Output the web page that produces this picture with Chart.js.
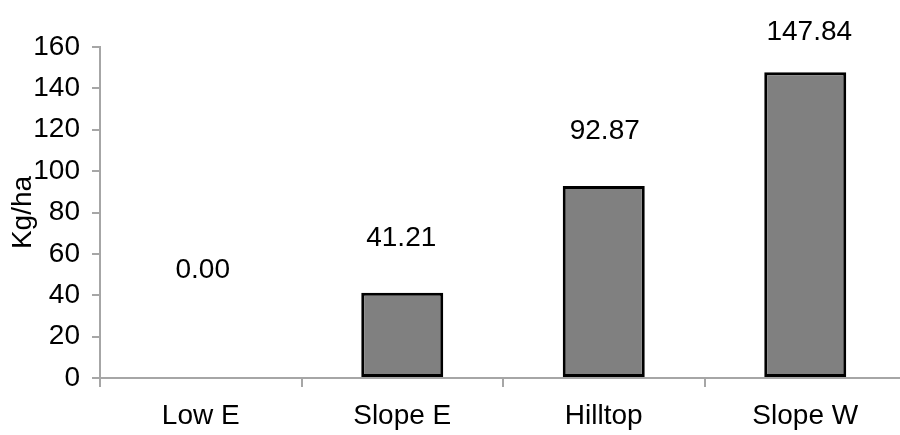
<html>
<head>
    <meta http-equiv="Content-Type" content="text/html; charset=utf-8"/>
    <title>Kg/ha</title>
    <style>
        html, body { margin: 0; padding: 0; background: #ffffff; overflow: hidden; }
    </style>
</head>
<body>

    <canvas id="slupki" width="906" height="435"></canvas>

<script src="https://cdn.jsdelivr.net/npm/chart.js@4/dist/chart.umd.min.js"></script>
<script type="text/javascript">

// dane z wykresu
var miejsca = ["Low E", "Slope E", "Hilltop", "Slope W"];
var kgha = [0.00, 41.21, 92.87, 147.84];
var osY = [0, 20, 40, 60, 80, 100, 120, 140, 160];

var FONT = "'Liberation Sans', Arial, sans-serif";
var SZARY = "#a6a6a6";

// etykiety nad slupkami (odstep dolu tekstu od gory slupka, px)
var podpisy = {
    id : "podpisy",
    afterDatasetsDraw : function(chart, args, opts)
    {
        var ctx = chart.ctx;
        var meta = chart.getDatasetMeta(0);
        ctx.save();
        ctx.font = "28px " + FONT;
        ctx.fillStyle = "#000000";
        ctx.textAlign = "center";
        ctx.textBaseline = "alphabetic";
        for (var i = 0; i < meta.data.length; ++i)
        {
            var b = meta.data[i];
            ctx.fillText(kgha[i].toFixed(2), b.x + opts.dx[i], b.y - opts.odstep[i]);
        }
        ctx.restore();
    }
};

var ctx = document.getElementById("slupki").getContext("2d");
var wykres = new Chart(ctx, {
    type : "bar",
    data : {
        labels : miejsca,
        datasets : [{
            label : "Kg/ha",
            data : kgha,
            backgroundColor : "#808080",
            borderColor : "#000000",
            borderWidth : 3,
            borderSkipped : false,
            barPercentage : 0.407,
            categoryPercentage : 1.0
        }]
    },
    options : {
        responsive : false,
        animation : false,
        layout : { padding : { top : 47, right : 0, bottom : 0, left : 0 } },
        plugins : {
            legend : { display : false },
            tooltip : { enabled : false },
            podpisy : { odstep : [100, 47, 47, 32], dx : [2, -1, 1, 4] }
        },
        scales : {
            x : {
                offset : true,
                grid : {
                    offset : true,
                    drawOnChartArea : false,
                    drawTicks : true,
                    tickLength : 9,
                    color : SZARY,
                    lineWidth : 2
                },
                border : { display : true, color : SZARY, width : 2 },
                ticks : {
                    color : "#000000",
                    font : { family : FONT, size : 28 },
                    padding : 12,
                    maxRotation : 0
                },
                afterFit : function(s) { s.height = 57; }
            },
            y : {
                min : 0,
                max : 160,
                afterBuildTicks : function(s) { s.ticks = osY.map(function(v) { return {value : v}; }); },
                grid : {
                    drawOnChartArea : false,
                    drawTicks : true,
                    tickLength : 8,
                    color : SZARY,
                    lineWidth : 2
                },
                border : { display : true, color : SZARY, width : 2 },
                ticks : {
                    color : "#000000",
                    font : { family : FONT, size : 28 },
                    padding : 12
                },
                title : {
                    display : true,
                    text : "Kg/ha",
                    color : "#000000",
                    font : { family : FONT, size : 28 },
                    padding : { top : 6, bottom : 0 }
                },
                afterFit : function(s) { s.width = 100; }
            }
        }
    },
    plugins : [podpisy]
});

</script>
</body>
</html>
